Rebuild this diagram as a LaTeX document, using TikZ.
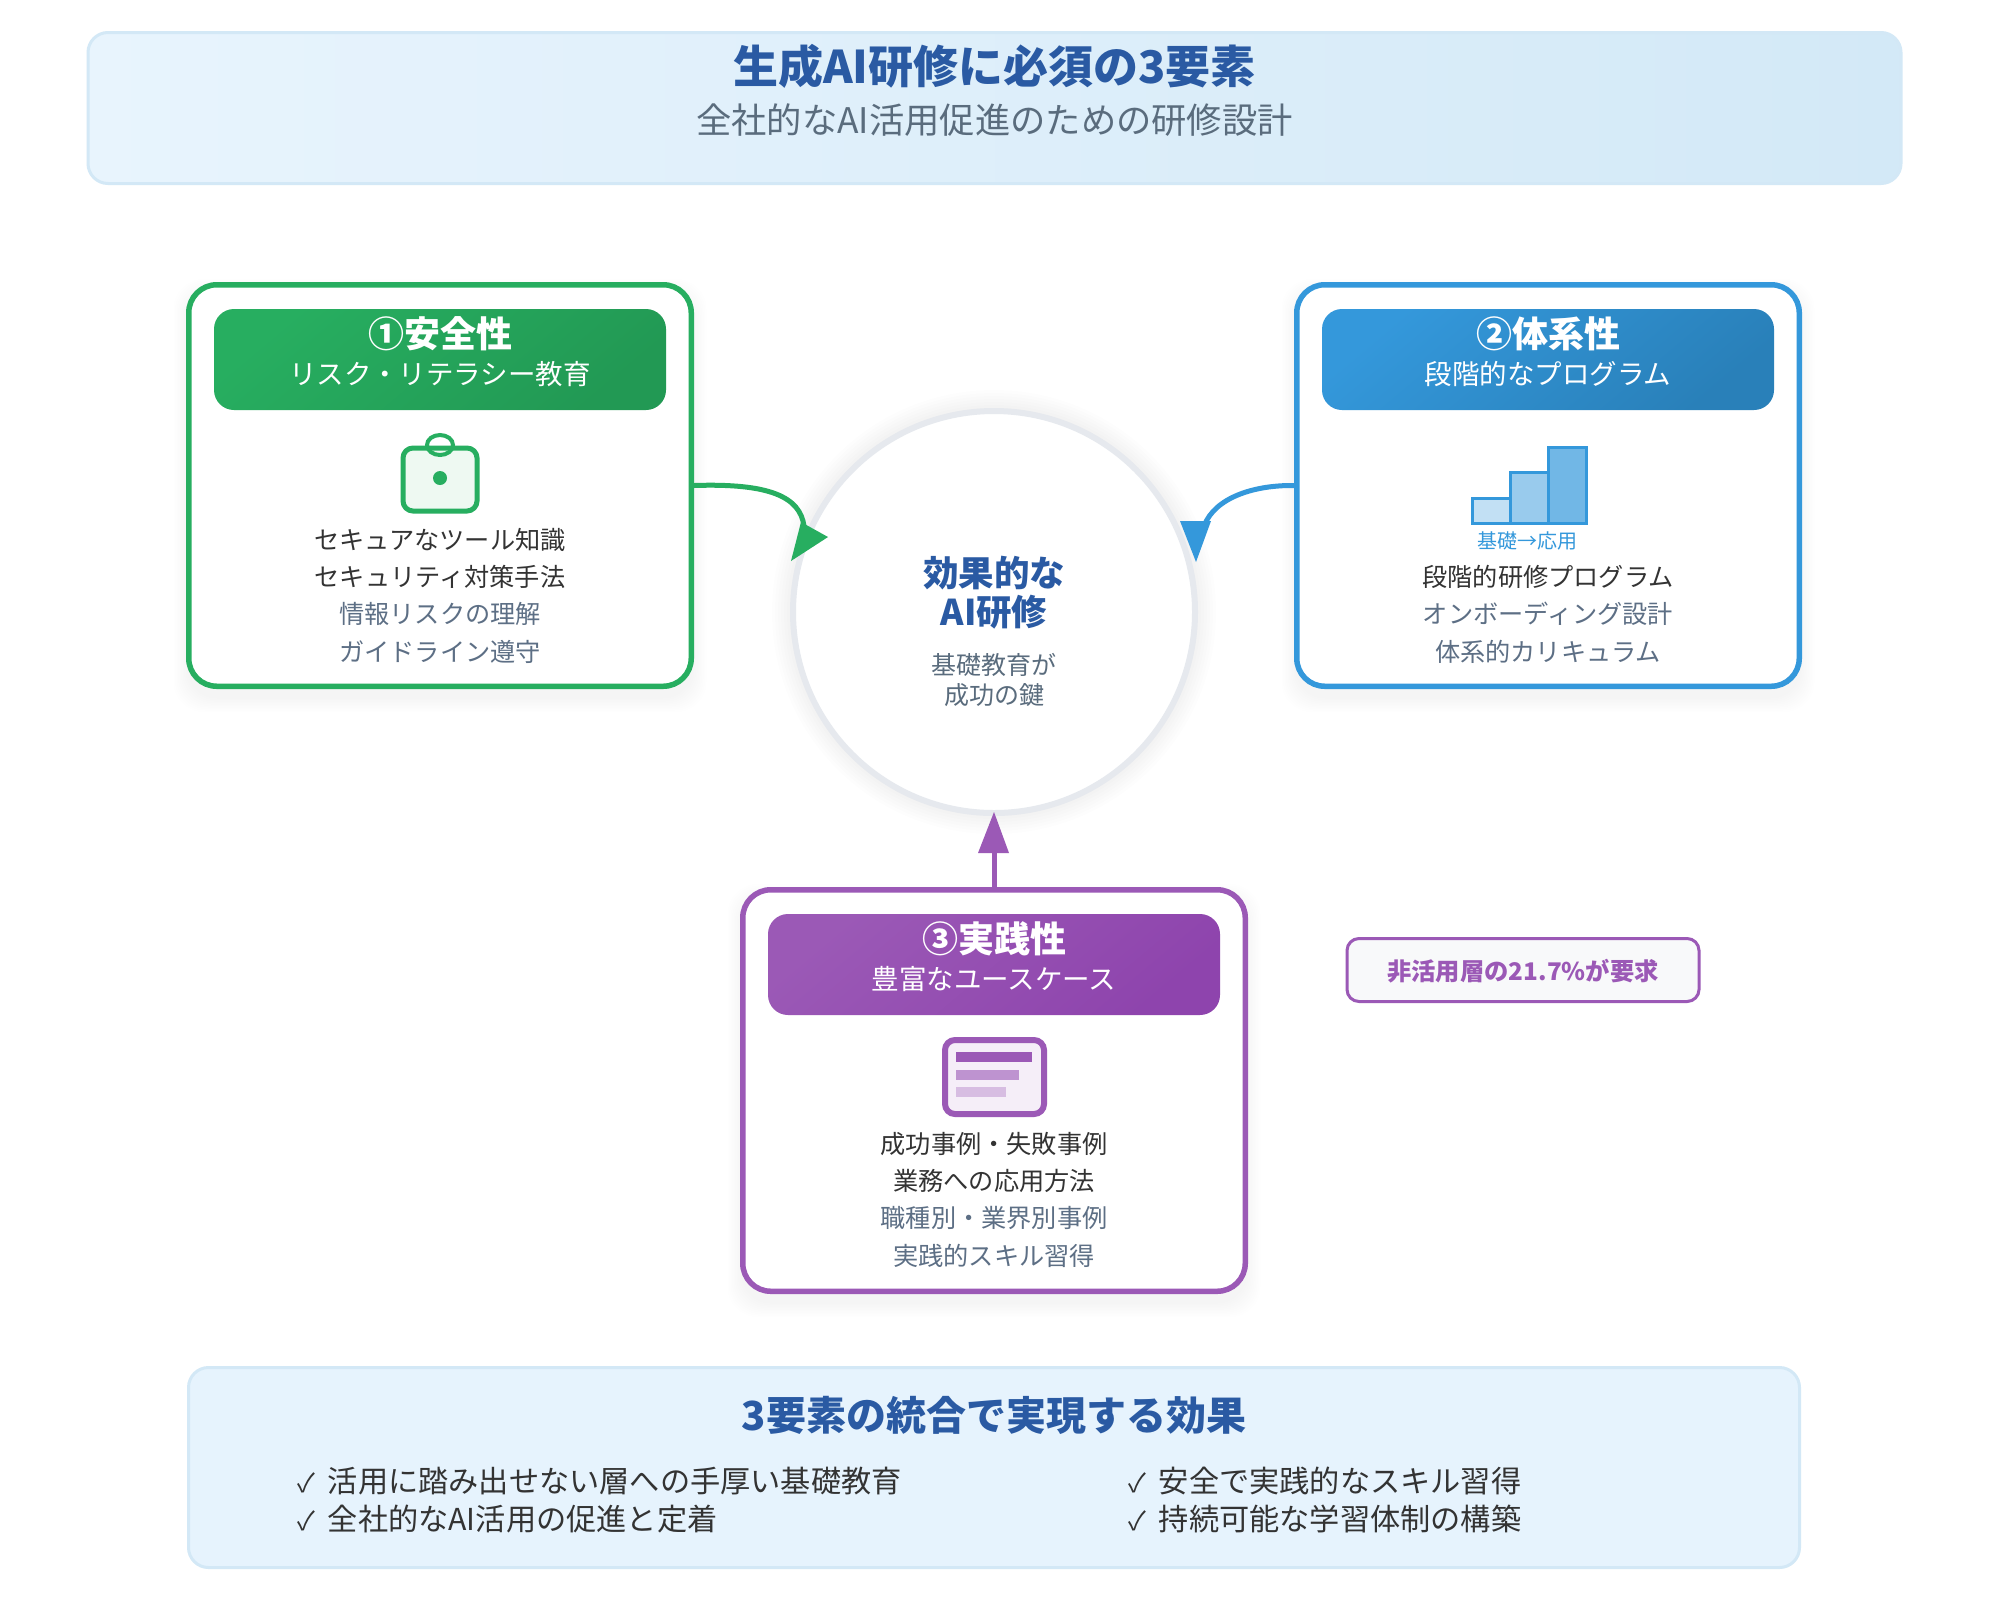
\documentclass[tikz,border=0pt]{standalone}
\usepackage{fontspec}
\setmainfont{Noto Sans CJK JP}
\newcommand{\pxfont}[1]{\pgfmathsetmacro\pxsize{#1/2}\fontsize{\pxsize pt}{\pxsize pt}\selectfont}
\definecolor{titleblue}{HTML}{2A5AA3}
\definecolor{subgray}{HTML}{5A6C7D}
\definecolor{darktext}{HTML}{333333}
\definecolor{slate}{HTML}{5D6F85}
\definecolor{gfrom}{HTML}{27AE60}\definecolor{gto}{HTML}{229954}
\definecolor{bfrom}{HTML}{3498DB}\definecolor{bto}{HTML}{2980B9}
\definecolor{pfrom}{HTML}{9B59B6}\definecolor{pto}{HTML}{8E44AD}
\definecolor{paleblue}{HTML}{E6F3FD}
\definecolor{paleedge}{HTML}{D3E8F6}
\definecolor{ringgray}{HTML}{E6E9EE}
\definecolor{bannerL}{HTML}{E8F4FD}
\definecolor{bannerR}{HTML}{D3E9F7}
\definecolor{notefill}{HTML}{F8F9FA}
\tikzset{
  txt/.style={font=\pxfont{#1},anchor=base,yshift=-0.19*#1 pt,inner sep=0pt,outer sep=0pt},
  txtb/.style={font=\pxfont{#1}\bfseries,anchor=base,yshift=-0.19*#1 pt,inner sep=0pt,outer sep=0pt},
  txtl/.style={font=\pxfont{#1},anchor=base west,yshift=-0.19*#1 pt,inner sep=0pt,outer sep=0pt},
  card/.style={draw=#1,line width=2.75pt,fill=white,rounded corners=14pt,minimum width=251.25pt,minimum height=200.75pt,inner sep=0pt},
  headbox/.style={rounded corners=10pt,minimum width=226pt,minimum height=50.5pt,inner sep=0pt},
  cardsub/.style={txt=27.5,text=white},
  dark/.style={txt=25.2,text=darktext},
  soft/.style={txt=25.2,text=slate},
  conn/.style={line width=2.5pt,draw=#1},
  panel/.style={draw=paleedge,line width=1.5pt,rounded corners=10pt,inner sep=0pt},
  bullet/.style={txtl=30.2,text=darktext},
}
\newcommand{\tick}{\makebox[16.4pt][l]{\hspace{1pt}\pxfont{26}✓}\pxfont{30.2}}
\begin{document}
\begin{tikzpicture}[x=0.5pt,y=-0.5pt]
\useasboundingbox (0,0) rectangle (2000,1618);
\fill[white] (0,0) rectangle (2000,1618);

% banner
\node[panel,left color=bannerL,right color=bannerR,minimum width=906.5pt,minimum height=75.5pt] (banner) at (994.5,108) {};
\node[txtb=45,text=titleblue] (title) at (994.5,66) {生成AI研修に必須の3要素};
\node[txt=35.3,text=subgray] (subtitle) at (994.5,120) {全社的なAI活用促進のための研修設計};

% shadows
\foreach \cx/\cy in {440/485.5,1548/485.5,994/1090.5}{
  \foreach \g in {0,3,...,27}{
    \fill[black,opacity=0.005,rounded corners=15pt] (\cx-253-\g/2,\cy-203-\g/2+10) rectangle (\cx+253+\g/2,\cy+203+\g/2+10);
  }
}
\foreach \r in {204,207,...,224}{
  \fill[black,opacity=0.006] (994,612) ellipse [x radius=\r,y radius=\r];
}

% centre circle
\node[circle,draw=ringgray,line width=3pt,fill=white,minimum size=201pt,inner sep=0pt] (hub) at (994,612) {};
\node[txtb=35.5,text=titleblue] (hubA) at (994,573) {効果的な};
\node[txtb=35.5,text=titleblue] (hubB) at (994,612) {AI研修};
\node[txt=25,text=subgray] (hubC) at (994,665) {基礎教育が};
\node[txt=25,text=subgray] (hubD) at (994,695) {成功の鍵};

% cards
\node[card=gfrom] (safe) at (440,485.5) {};
\node[card=bfrom] (sys) at (1548,485.5) {};
\node[card=pfrom] (prac) at (994,1090.5) {};

% card headers
\node[headbox,left color=gfrom,right color=gto,shading angle=40] (safeH) at (440,359.5) {};
\node[headbox,left color=bfrom,right color=bto,shading angle=40] (sysH) at (1548,359.5) {};
\node[headbox,left color=pfrom,right color=pto,shading angle=40] (pracH) at (994,964.5) {};

\node[txtb=36,text=white] (safeT) at (440,334) {①安全性};
\node[cardsub] (safeS) at (440,374) {リスク・リテラシー教育};
\node[txtb=36,text=white] (sysT) at (1548,334) {②体系性};
\node[cardsub] (sysS) at (1548,374) {段階的なプログラム};
\node[txtb=36,text=white] (pracT) at (994,939) {③実践性};
\node[cardsub] (pracS) at (994,979) {豊富なユースケース};

% icon safe
\draw[gfrom,line width=2.5pt,fill=gfrom!8,rounded corners=5pt] (403,448) rectangle (477,511);
\draw[gfrom,line width=2pt] (440,445) ellipse [x radius=13,y radius=10];
\fill[gfrom] (440,478) circle [radius=7];

% icon sys
\draw[bfrom,line width=1.5pt,fill=bfrom!30] (1472,498) rectangle (1510,523);
\draw[bfrom,line width=1.5pt,fill=bfrom!50] (1510,472) rectangle (1548,523);
\draw[bfrom,line width=1.5pt,fill=bfrom!70] (1548,447) rectangle (1586,523);
\node[txt=20,text=bfrom] (sysL) at (1527,541) {基礎→応用};

% icon prac
\draw[pfrom,line width=3pt,fill=pfrom!10,rounded corners=5pt] (945,1040) rectangle (1044,1114);
\fill[pfrom] (956,1052) rectangle (1032,1062);
\fill[pfrom!65] (956,1070) rectangle (1019,1080);
\fill[pfrom!40] (956,1087) rectangle (1006,1097);

% card text
\node[dark] (s1) at (440,540) {セキュアなツール知識};
\node[dark] (s2) at (440,577) {セキュリティ対策手法};
\node[soft] (s3) at (440,614) {情報リスクの理解};
\node[soft] (s4) at (440,652) {ガイドライン遵守};

\node[dark] (b1) at (1548,577) {段階的研修プログラム};
\node[soft] (b2) at (1548,614) {オンボーディング設計};
\node[soft] (b3) at (1548,652) {体系的カリキュラム};

\node[dark] (p1) at (994,1144) {成功事例・失敗事例};
\node[dark] (p2) at (994,1181) {業務への応用方法};
\node[soft] (p3) at (994,1218) {職種別・業界別事例};
\node[soft] (p4) at (994,1256) {実践的スキル習得};

% connectors
\coordinate (gEnd) at (804,526);
\coordinate (bEnd) at (1204,526);
\coordinate (pEnd) at (994,850);
\draw[conn=gfrom] (safe.east) .. controls (770,483) and (800,497) .. (gEnd);
\fill[gfrom] (801,522) -- (828,537) -- (791,561) -- cycle;
\draw[conn=bfrom] (sys.west) .. controls (1255,485) and (1215,497) .. (bEnd);
\fill[bfrom] (1180,521) -- (1211,521) -- (1196,562) -- cycle;
\draw[conn=pfrom] (prac.north) -- (pEnd);
\fill[pfrom] (994,812) -- (1009,853) -- (978,853) -- cycle;

% note
\node[draw=pfrom,line width=1.5pt,fill=notefill,rounded corners=6pt,minimum width=176pt,minimum height=31.5pt,inner sep=0pt] (note) at (1523,970) {};
\node[txtb=24.3,text=pfrom] (noteT) at (1523,971) {非活用層の21.7\%が要求};

% bottom panel
\node[panel,fill=paleblue,minimum width=805.5pt,minimum height=100pt] (effect) at (994,1467.5) {};
\node[txtb=40,text=titleblue] (effectT) at (994,1415) {3要素の統合で実現する効果};
\node[bullet] (e1) at (295,1481) {\tick 活用に踏み出せない層への手厚い基礎教育};
\node[bullet] (e2) at (295,1519) {\tick 全社的なAI活用の促進と定着};
\node[bullet] (e3) at (1126,1481) {\tick 安全で実践的なスキル習得};
\node[bullet] (e4) at (1126,1519) {\tick 持続可能な学習体制の構築};
\end{tikzpicture}
\end{document}
